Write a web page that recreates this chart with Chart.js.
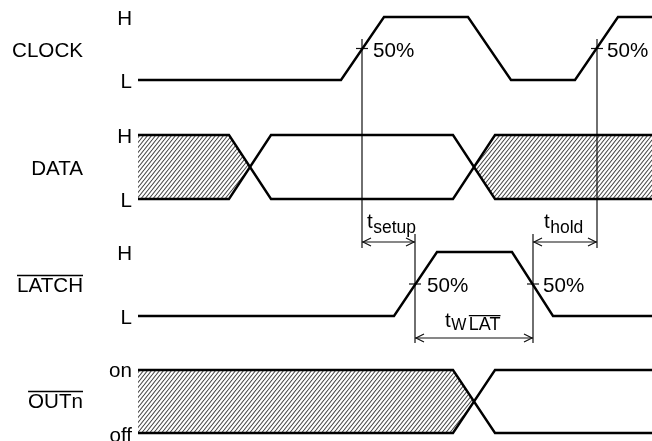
<!DOCTYPE html>
<html>
<head>
<meta charset="utf-8">
<script src="https://cdn.jsdelivr.net/npm/chart.js@4.4.1/dist/chart.umd.min.js"></script>
<style>
  html, body { margin: 0; padding: 0; background: #fff; }
  #wrap { width: 652px; height: 441px; }
</style>
</head>
<body>
<div id="wrap"><canvas id="chart" width="652" height="441"></canvas></div>
<script>
// waveforms: time points along the x axis and logic levels (1 = H/on, 0 = L/off, 0.5 = crossing)
const clockT = [138, 341, 384, 468, 511, 575, 618, 652];
const clockLv = [0, 0, 1, 1, 0, 0, 1, 1];

const dataT = [138, 229, 271, 453, 495, 652];
const dataLvA = [1, 1, 0, 0, 1, 1];
const dataLvB = [0, 0, 1, 1, 0, 0];
const dataHatchLT = [138, 229, 250];
const dataHatchRT = [473, 495, 652];

const latchT = [138, 394, 437, 512, 553, 652];
const latchLv = [0, 0, 1, 1, 0, 0];

const outT = [138, 453, 495, 652];
const outLvA = [1, 1, 0, 0];
const outLvB = [0, 0, 1, 1];
const outHatchT = [138, 453, 473];

// 50% points used for the timing references
const clockEdges = [362, 597];
const latchEdges = [415, 533];

// lanes: y value of high / low level for each signal
const lanes = {
    clock: { hi: 17, lo: 80 },
    data: { hi: 135, lo: 199 },
    latch: { hi: 252, lo: 316 },
    out: { hi: 370, lo: 433 }
};

function pts(ts, lvs, lane) {
    return ts.map((t, i) => ({ x: t, y: lane.lo + lvs[i] * (lane.hi - lane.lo) }));
}

function makeHatch() {
    const c = document.createElement('canvas');
    c.width = 4; c.height = 5;
    const g = c.getContext('2d');
    g.fillStyle = '#fff';
    g.fillRect(0, 0, 4, 5);
    g.strokeStyle = '#444';
    g.lineWidth = 1.05;
    [-4, 0, 4].forEach(o => {
        g.beginPath();
        g.moveTo(o, 5);
        g.lineTo(o + 4, 0);
        g.stroke();
    });
    return g.createPattern(c, 'repeat');
}
const hatch = makeHatch();

const datasets = [];
function wave(data, width) {
    datasets.push({
        data, borderColor: '#000', borderWidth: width || 2.4, fill: false,
        pointRadius: 0, borderJoinStyle: 'miter', borderCapStyle: 'butt', order: 1
    });
}
function hatchArea(top, bottom) {
    const idx = datasets.length;
    datasets.push({ data: top, borderWidth: 0, borderColor: 'rgba(0,0,0,0)', backgroundColor: hatch, fill: idx + 1, pointRadius: 0, order: 5 });
    datasets.push({ data: bottom, borderWidth: 0, borderColor: 'rgba(0,0,0,0)', fill: false, pointRadius: 0, order: 5 });
}
function thin(data) {
    datasets.push({ data, borderColor: '#111', borderWidth: 1.2, fill: false, pointRadius: 0, order: 2 });
}

// hatched (undefined) regions
hatchArea(pts(dataHatchLT, [1, 1, 0.5], lanes.data), pts(dataHatchLT, [0, 0, 0.5], lanes.data));
hatchArea(pts(dataHatchRT, [0.5, 1, 1], lanes.data), pts(dataHatchRT, [0.5, 0, 0], lanes.data));
hatchArea(pts(outHatchT, [1, 1, 0.5], lanes.out), pts(outHatchT, [0, 0, 0.5], lanes.out));

// signals
wave(pts(clockT, clockLv, lanes.clock));
wave(pts(dataT, dataLvA, lanes.data));
wave(pts(dataT, dataLvB, lanes.data));
wave(pts(latchT, latchLv, lanes.latch));
wave(pts(outT, outLvA, lanes.out));
wave(pts(outT, outLvB, lanes.out));

// reference lines
const clockMid = (lanes.clock.hi + lanes.clock.lo) / 2;
const latchMid = (lanes.latch.hi + lanes.latch.lo) / 2;
const setupY = 242, twY = 338;
clockEdges.forEach(t => {
    thin([{ x: t, y: 39 }, { x: t, y: 248 }]);
    thin([{ x: t - 6, y: clockMid }, { x: t + 6, y: clockMid }]);
});
latchEdges.forEach(t => {
    thin([{ x: t, y: 234 }, { x: t, y: 343 }]);
    thin([{ x: t - 6, y: latchMid }, { x: t + 6, y: latchMid }]);
});
// dimension arrows
const arrows = [
    { a: clockEdges[0], b: latchEdges[0], y: setupY },
    { a: latchEdges[1], b: clockEdges[1], y: setupY },
    { a: latchEdges[0], b: latchEdges[1], y: twY }
];
arrows.forEach(r => thin([{ x: r.a, y: r.y }, { x: r.b, y: r.y }]));

const FONT = '"Liberation Sans", Arial, sans-serif';

const decor = {
    id: 'decor',
    afterDatasetsDraw(chart) {
        const ctx = chart.ctx;
        const xs = chart.scales.x, ys = chart.scales.y;
        const X = v => xs.getPixelForValue(v), Y = v => ys.getPixelForValue(v);
        ctx.save();
        // arrow heads
        ctx.strokeStyle = '#111';
        ctx.lineWidth = 1.2;
        arrows.forEach(r => {
            const y = Y(r.y), a = X(r.a), b = X(r.b);
            ctx.beginPath();
            ctx.moveTo(a + 9, y - 4); ctx.lineTo(a + 1, y); ctx.lineTo(a + 9, y + 4);
            ctx.moveTo(b - 9, y - 4); ctx.lineTo(b - 1, y); ctx.lineTo(b - 9, y + 4);
            ctx.stroke();
        });

        ctx.fillStyle = '#000';
        ctx.textBaseline = 'alphabetic';
        function txt(s, x, y, size, align) {
            ctx.font = size + 'px ' + FONT;
            ctx.textAlign = align || 'left';
            ctx.fillText(s, X(x), Y(y));
            return ctx.measureText(s).width;
        }
        function over(s, x, y, size, align) {
            const w = txt(s, x, y, size, align);
            const x0 = align === 'right' ? X(x) - w : X(x);
            ctx.lineWidth = 1.3;
            ctx.strokeStyle = '#000';
            ctx.beginPath();
            ctx.moveTo(x0, Y(y) - size * 0.8);
            ctx.lineTo(x0 + w, Y(y) - size * 0.8);
            ctx.stroke();
            return w;
        }
        const S = 20.6;
        // signal names
        txt('CLOCK', 83, 57, S, 'right');
        txt('DATA', 83, 175, S, 'right');
        over('LATCH', 83, 292, S, 'right');
        over('OUTn', 83, 408, S, 'right');
        // level names
        txt('H', 132, 25, S, 'right');
        txt('L', 132, 88, S, 'right');
        txt('H', 132, 143, S, 'right');
        txt('L', 132, 207, S, 'right');
        txt('H', 132, 260, S, 'right');
        txt('L', 132, 324, S, 'right');
        txt('on', 132, 377, S, 'right');
        txt('off', 132, 442, S, 'right');
        // 50% marks
        txt('50%', clockEdges[0] + 11, clockMid + 8, S);
        txt('50%', clockEdges[1] + 10, clockMid + 8, S);
        txt('50%', latchEdges[0] + 12, latchMid + 8, S);
        txt('50%', latchEdges[1] + 10, latchMid + 8, S);
        // timing names
        let w = txt('t', 367, 228, S);
        txt('setup', 367 + w + 0.5, 233, 17.5);
        w = txt('t', 544, 228, S);
        txt('hold', 544 + w + 0.5, 233, 17.5);
        w = txt('t', 445, 327, S);
        const w2 = txt('W', 445 + w + 0.5, 330, 16);
        over('LAT', 445 + w + w2 + 3, 330, 18);
        ctx.restore();
    }
};

new Chart(document.getElementById('chart'), {
    type: 'line',
    data: { datasets },
    options: {
        responsive: false,
        animation: false,
        devicePixelRatio: 1,
        layout: { padding: 0 },
        plugins: { legend: { display: false }, tooltip: { enabled: false } },
        elements: { line: { tension: 0 } },
        scales: {
            x: { type: 'linear', min: 0, max: 652, display: false },
            y: { type: 'linear', min: 0, max: 441, reverse: true, display: false }
        }
    },
    plugins: [decor]
});
</script>
</body>
</html>
